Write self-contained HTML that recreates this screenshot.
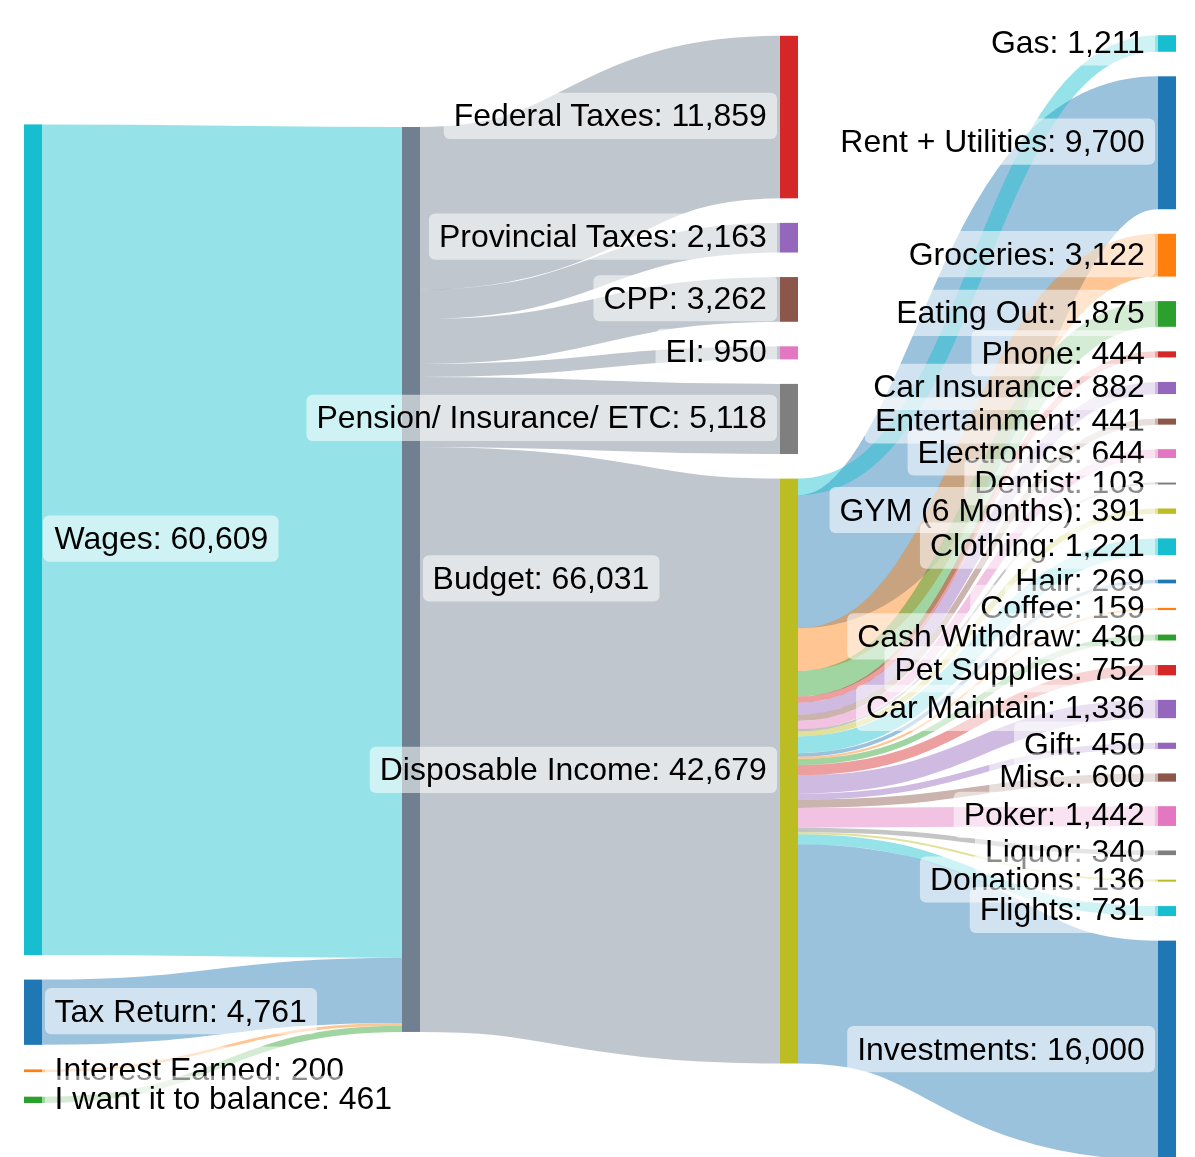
<!DOCTYPE html>
<html><head><meta charset="utf-8"><title>Budget Sankey</title>
<style>
html,body{margin:0;padding:0;background:#fff;}
body{width:1195px;height:1157px;overflow:hidden;}
svg{display:block;}
</style></head><body>
<svg width="1195" height="1157" viewBox="0 0 1195 1157">
<rect width="1195" height="1157" fill="#fff"/>
<g>
<path d="M42 539.72C222 539.72 222 542.32 402 542.32" fill="none" stroke="#17becf" stroke-width="830.65" opacity="0.45"/>
<path d="M420 739.5C600 739.5 600 771.05 780 771.05" fill="none" stroke="#708090" stroke-width="584.92" opacity="0.45"/>
<path d="M798 953.86C978 953.86 978 1050.27 1158 1050.27" fill="none" stroke="#1f77b4" stroke-width="219.28" opacity="0.45"/>
<path d="M420 208.26C600 208.26 600 117.06 780 117.06" fill="none" stroke="#708090" stroke-width="162.53" opacity="0.45"/>
<path d="M798 561.66C978 561.66 978 142.78 1158 142.78" fill="none" stroke="#1f77b4" stroke-width="132.94" opacity="0.45"/>
<path d="M420 411.97C600 411.97 600 418.97 780 418.97" fill="none" stroke="#708090" stroke-width="70.14" opacity="0.45"/>
<path d="M42 1012.22C222 1012.22 222 990.27 402 990.27" fill="none" stroke="#1f77b4" stroke-width="65.25" opacity="0.45"/>
<path d="M420 341.52C600 341.52 600 299.42 780 299.42" fill="none" stroke="#708090" stroke-width="44.71" opacity="0.45"/>
<path d="M798 649.52C978 649.52 978 255.18 1158 255.18" fill="none" stroke="#ff7f0e" stroke-width="42.79" opacity="0.45"/>
<path d="M420 304.35C600 304.35 600 237.7 780 237.7" fill="none" stroke="#708090" stroke-width="29.64" opacity="0.45"/>
<path d="M798 683.76C978 683.76 978 313.96 1158 313.96" fill="none" stroke="#2ca02c" stroke-width="25.7" opacity="0.45"/>
<path d="M798 807.92L1158 806.18L1158 825.94L798 827.68Z" fill="#e377c2" stroke="none" opacity="0.45"/>
<path d="M798 784.38C978 784.38 978 709.02 1158 709.02" fill="none" stroke="#9467bd" stroke-width="18.31" opacity="0.45"/>
<path d="M798 744.79C978 744.79 978 546.75 1158 546.75" fill="none" stroke="#17becf" stroke-width="16.73" opacity="0.45"/>
<path d="M798 486.89C978 486.89 978 43.48 1158 43.48" fill="none" stroke="#17becf" stroke-width="16.6" opacity="0.45"/>
<path d="M420 370.39C600 370.39 600 352.84 780 352.84" fill="none" stroke="#708090" stroke-width="13.02" opacity="0.45"/>
<path d="M798 708.74C978 708.74 978 388.01 1158 388.01" fill="none" stroke="#9467bd" stroke-width="12.09" opacity="0.45"/>
<path d="M798 770.07C978 770.07 978 670.18 1158 670.18" fill="none" stroke="#d62728" stroke-width="10.31" opacity="0.45"/>
<path d="M798 839.22C978 839.22 978 911.08 1158 911.08" fill="none" stroke="#17becf" stroke-width="10.02" opacity="0.45"/>
<path d="M798 725.24C978 725.24 978 453.59 1158 453.59" fill="none" stroke="#e377c2" stroke-width="8.83" opacity="0.45"/>
<path d="M798 803.81C978 803.81 978 777.53 1158 777.53" fill="none" stroke="#8c564b" stroke-width="8.22" opacity="0.45"/>
<path d="M42 1099.85C222 1099.85 222 1028.8 402 1028.8" fill="none" stroke="#2ca02c" stroke-width="6.32" opacity="0.45"/>
<path d="M798 796.61C978 796.61 978 745.8 1158 745.8" fill="none" stroke="#9467bd" stroke-width="6.17" opacity="0.45"/>
<path d="M798 699.65C978 699.65 978 354.39 1158 354.39" fill="none" stroke="#d62728" stroke-width="6.09" opacity="0.45"/>
<path d="M798 717.8C978 717.8 978 421.62 1158 421.62" fill="none" stroke="#8c564b" stroke-width="6.04" opacity="0.45"/>
<path d="M798 761.97C978 761.97 978 637.54 1158 637.54" fill="none" stroke="#2ca02c" stroke-width="5.89" opacity="0.45"/>
<path d="M798 733.74C978 733.74 978 511.17 1158 511.17" fill="none" stroke="#bcbd22" stroke-width="5.36" opacity="0.45"/>
<path d="M798 830.01C978 830.01 978 852.81 1158 852.81" fill="none" stroke="#7f7f7f" stroke-width="4.66" opacity="0.45"/>
<path d="M798 755C978 755 978 581.5 1158 581.5" fill="none" stroke="#1f77b4" stroke-width="3.69" opacity="0.45"/>
<path d="M42 1070.77C222 1070.77 222 1024.27 402 1024.27" fill="none" stroke="#ff7f0e" stroke-width="2.74" opacity="0.45"/>
<path d="M798 757.93C978 757.93 978 608.97 1158 608.97" fill="none" stroke="#ff7f0e" stroke-width="2.18" opacity="0.45"/>
<path d="M798 833.27C978 833.27 978 880.61 1158 880.61" fill="none" stroke="#bcbd22" stroke-width="2" opacity="0.45"/>
<path d="M798 730.36C978 730.36 978 483.24 1158 483.24" fill="none" stroke="#7f7f7f" stroke-width="2" opacity="0.45"/>
</g>
<g>
<rect x="24" y="124.4" width="18" height="830.65" fill="#17becf"/>
<rect x="24" y="979.6" width="18" height="65.25" fill="#1f77b4"/>
<rect x="24" y="1069.4" width="18" height="2.74" fill="#ff7f0e"/>
<rect x="24" y="1096.69" width="18" height="6.32" fill="#2ca02c"/>
<rect x="402" y="127" width="18" height="904.95" fill="#708090"/>
<rect x="780" y="35.8" width="18" height="162.53" fill="#d62728"/>
<rect x="780" y="222.88" width="18" height="29.64" fill="#9467bd"/>
<rect x="780" y="277.07" width="18" height="44.71" fill="#8c564b"/>
<rect x="780" y="346.33" width="18" height="13.02" fill="#e377c2"/>
<rect x="780" y="383.9" width="18" height="70.14" fill="#7f7f7f"/>
<rect x="780" y="478.59" width="18" height="584.92" fill="#bcbd22"/>
<rect x="1158" y="35.18" width="18" height="16.6" fill="#17becf"/>
<rect x="1158" y="76.31" width="18" height="132.94" fill="#1f77b4"/>
<rect x="1158" y="233.79" width="18" height="42.79" fill="#ff7f0e"/>
<rect x="1158" y="301.11" width="18" height="25.7" fill="#2ca02c"/>
<rect x="1158" y="351.35" width="18" height="6.09" fill="#d62728"/>
<rect x="1158" y="381.97" width="18" height="12.09" fill="#9467bd"/>
<rect x="1158" y="418.59" width="18" height="6.04" fill="#8c564b"/>
<rect x="1158" y="449.17" width="18" height="8.83" fill="#e377c2"/>
<rect x="1158" y="482.54" width="18" height="2" fill="#7f7f7f"/>
<rect x="1158" y="508.49" width="18" height="5.36" fill="#bcbd22"/>
<rect x="1158" y="538.38" width="18" height="16.73" fill="#17becf"/>
<rect x="1158" y="579.65" width="18" height="3.69" fill="#1f77b4"/>
<rect x="1158" y="607.88" width="18" height="2.18" fill="#ff7f0e"/>
<rect x="1158" y="634.59" width="18" height="5.89" fill="#2ca02c"/>
<rect x="1158" y="665.02" width="18" height="10.31" fill="#d62728"/>
<rect x="1158" y="699.87" width="18" height="18.31" fill="#9467bd"/>
<rect x="1158" y="742.71" width="18" height="6.17" fill="#9467bd"/>
<rect x="1158" y="773.42" width="18" height="8.22" fill="#8c564b"/>
<rect x="1158" y="806.18" width="18" height="19.76" fill="#e377c2"/>
<rect x="1158" y="850.48" width="18" height="4.66" fill="#7f7f7f"/>
<rect x="1158" y="879.67" width="18" height="2" fill="#bcbd22"/>
<rect x="1158" y="906.07" width="18" height="10.02" fill="#17becf"/>
<rect x="1158" y="940.63" width="18" height="219.28" fill="#1f77b4"/>
</g>
<g font-family="'Liberation Sans', Arial, sans-serif" font-size="31.95" fill="#000">
<rect x="43" y="515.52" width="235.56" height="46.15" rx="6" ry="6" fill="#fff" fill-opacity="0.55"/>
<text x="54.6" y="549" text-anchor="start">Wages: 60,609</text>
<rect x="45" y="988.02" width="272.01" height="46.15" rx="6" ry="6" fill="#fff" fill-opacity="0.55"/>
<text x="54.6" y="1022" text-anchor="start">Tax Return: 4,761</text>
<rect x="45" y="1046.57" width="309.31" height="46.15" rx="6" ry="6" fill="#fff" fill-opacity="0.55"/>
<text x="54.6" y="1080" text-anchor="start">Interest Earned: 200</text>
<rect x="45" y="1075.65" width="357.24" height="46.15" rx="6" ry="6" fill="#fff" fill-opacity="0.55"/>
<text x="54.6" y="1109" text-anchor="start">I want it to balance: 461</text>
<rect x="423" y="555.28" width="236.56" height="46.15" rx="6" ry="6" fill="#fff" fill-opacity="0.55"/>
<text x="432.6" y="589" text-anchor="start">Budget: 66,031</text>
<rect x="443.72" y="92.86" width="333.28" height="46.15" rx="6" ry="6" fill="#fff" fill-opacity="0.55"/>
<text x="766.8" y="126" text-anchor="end">Federal Taxes: 11,859</text>
<rect x="428.96" y="213.5" width="348.04" height="46.15" rx="6" ry="6" fill="#fff" fill-opacity="0.55"/>
<text x="766.8" y="247" text-anchor="end">Provincial Taxes: 2,163</text>
<rect x="593.46" y="275.22" width="183.54" height="46.15" rx="6" ry="6" fill="#fff" fill-opacity="0.55"/>
<text x="766.8" y="309" text-anchor="end">CPP: 3,262</text>
<rect x="655.58" y="328.64" width="121.42" height="46.15" rx="6" ry="6" fill="#fff" fill-opacity="0.55"/>
<text x="766.8" y="362" text-anchor="end">EI: 950</text>
<rect x="306.46" y="394.77" width="470.54" height="46.15" rx="6" ry="6" fill="#fff" fill-opacity="0.55"/>
<text x="766.8" y="428" text-anchor="end">Pension/ Insurance/ ETC: 5,118</text>
<rect x="369.75" y="746.85" width="407.25" height="46.15" rx="6" ry="6" fill="#fff" fill-opacity="0.55"/>
<text x="766.8" y="780" text-anchor="end">Disposable Income: 42,679</text>
<rect x="980.92" y="19.28" width="174.08" height="46.15" rx="6" ry="6" fill="#fff" fill-opacity="0.55"/>
<text x="1144.8" y="53" text-anchor="end">Gas: 1,211</text>
<rect x="830.35" y="118.58" width="324.65" height="46.15" rx="6" ry="6" fill="#fff" fill-opacity="0.55"/>
<text x="1144.8" y="152" text-anchor="end">Rent + Utilities: 9,700</text>
<rect x="898.69" y="230.98" width="256.31" height="46.15" rx="6" ry="6" fill="#fff" fill-opacity="0.55"/>
<text x="1144.8" y="265" text-anchor="end">Groceries: 3,122</text>
<rect x="886.22" y="289.76" width="268.78" height="46.15" rx="6" ry="6" fill="#fff" fill-opacity="0.55"/>
<text x="1144.8" y="323" text-anchor="end">Eating Out: 1,875</text>
<rect x="971.41" y="330.19" width="183.59" height="46.15" rx="6" ry="6" fill="#fff" fill-opacity="0.55"/>
<text x="1144.8" y="364" text-anchor="end">Phone: 444</text>
<rect x="863.17" y="363.81" width="291.83" height="46.15" rx="6" ry="6" fill="#fff" fill-opacity="0.55"/>
<text x="1144.8" y="397" text-anchor="end">Car Insurance: 882</text>
<rect x="864.92" y="397.42" width="290.08" height="46.15" rx="6" ry="6" fill="#fff" fill-opacity="0.55"/>
<text x="1144.8" y="431" text-anchor="end">Entertainment: 441</text>
<rect x="907.57" y="429.39" width="247.43" height="46.15" rx="6" ry="6" fill="#fff" fill-opacity="0.55"/>
<text x="1144.8" y="463" text-anchor="end">Electronics: 644</text>
<rect x="964.36" y="459.04" width="190.64" height="46.15" rx="6" ry="6" fill="#fff" fill-opacity="0.55"/>
<text x="1144.8" y="493" text-anchor="end">Dentist: 103</text>
<rect x="829.5" y="486.97" width="325.5" height="46.15" rx="6" ry="6" fill="#fff" fill-opacity="0.55"/>
<text x="1144.8" y="521" text-anchor="end">GYM (6 Months): 391</text>
<rect x="919.94" y="522.55" width="235.06" height="46.15" rx="6" ry="6" fill="#fff" fill-opacity="0.55"/>
<text x="1144.8" y="556" text-anchor="end">Clothing: 1,221</text>
<rect x="1005.21" y="557.3" width="149.79" height="46.15" rx="6" ry="6" fill="#fff" fill-opacity="0.55"/>
<text x="1144.8" y="591" text-anchor="end">Hair: 269</text>
<rect x="970.24" y="584.77" width="184.76" height="46.15" rx="6" ry="6" fill="#fff" fill-opacity="0.55"/>
<text x="1144.8" y="618" text-anchor="end">Coffee: 159</text>
<rect x="847.24" y="613.34" width="307.76" height="46.15" rx="6" ry="6" fill="#fff" fill-opacity="0.55"/>
<text x="1144.8" y="647" text-anchor="end">Cash Withdraw: 430</text>
<rect x="884.44" y="645.98" width="270.56" height="46.15" rx="6" ry="6" fill="#fff" fill-opacity="0.55"/>
<text x="1144.8" y="680" text-anchor="end">Pet Supplies: 752</text>
<rect x="856.07" y="684.82" width="298.93" height="46.15" rx="6" ry="6" fill="#fff" fill-opacity="0.55"/>
<text x="1144.8" y="718" text-anchor="end">Car Maintain: 1,336</text>
<rect x="1014.08" y="721.6" width="140.92" height="46.15" rx="6" ry="6" fill="#fff" fill-opacity="0.55"/>
<text x="1144.8" y="755" text-anchor="end">Gift: 450</text>
<rect x="989.25" y="753.33" width="165.75" height="46.15" rx="6" ry="6" fill="#fff" fill-opacity="0.55"/>
<text x="1144.8" y="787" text-anchor="end">Misc.: 600</text>
<rect x="953.69" y="791.86" width="201.31" height="46.15" rx="6" ry="6" fill="#fff" fill-opacity="0.55"/>
<text x="1144.8" y="825" text-anchor="end">Poker: 1,442</text>
<rect x="974.99" y="828.61" width="180.01" height="46.15" rx="6" ry="6" fill="#fff" fill-opacity="0.55"/>
<text x="1144.8" y="862" text-anchor="end">Liquor: 340</text>
<rect x="919.94" y="856.41" width="235.06" height="46.15" rx="6" ry="6" fill="#fff" fill-opacity="0.55"/>
<text x="1144.8" y="890" text-anchor="end">Donations: 136</text>
<rect x="969.69" y="886.88" width="185.31" height="46.15" rx="6" ry="6" fill="#fff" fill-opacity="0.55"/>
<text x="1144.8" y="920" text-anchor="end">Flights: 731</text>
<rect x="847.19" y="1026.07" width="307.81" height="46.15" rx="6" ry="6" fill="#fff" fill-opacity="0.55"/>
<text x="1144.8" y="1060" text-anchor="end">Investments: 16,000</text>
</g>
</svg>
</body></html>
